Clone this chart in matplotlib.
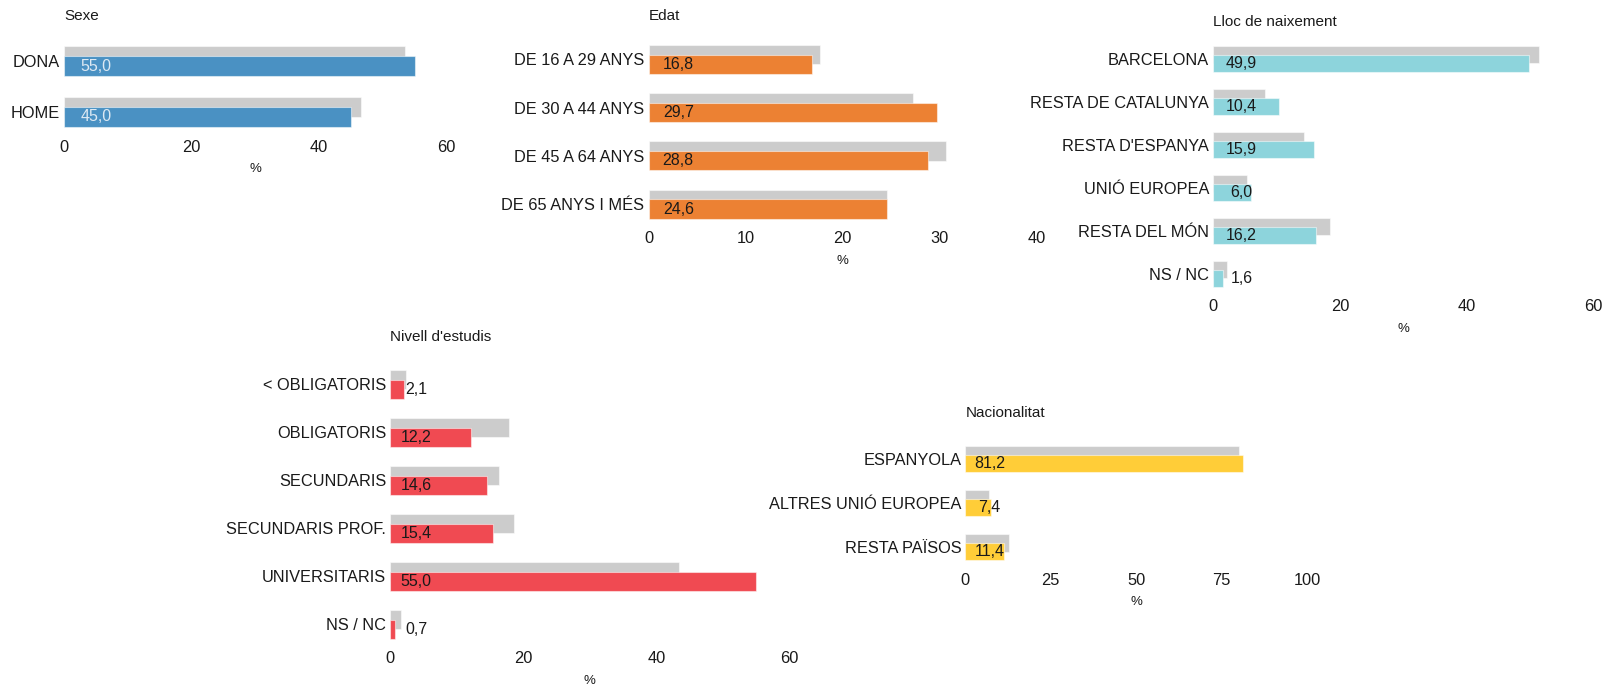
import matplotlib.pyplot as plt
import numpy as np

plt.rcParams['font.family'] = ['Liberation Sans', 'DejaVu Sans']

# data
sexe_cats = ['DONA', 'HOME']
sexe_vals = [55.0, 45.0]
sexe_ref = [53.4, 46.6]

edat_cats = ['DE 16 A 29 ANYS', 'DE 30 A 44 ANYS', 'DE 45 A 64 ANYS', 'DE 65 ANYS I MÉS']
edat_vals = [16.8, 29.7, 28.8, 24.6]
edat_ref = [17.7, 27.2, 30.6, 24.6]

lloc_cats = ['BARCELONA', 'RESTA DE CATALUNYA', "RESTA D'ESPANYA", 'UNIÓ EUROPEA',
             'RESTA DEL MÓN', 'NS / NC']
lloc_vals = [49.9, 10.4, 15.9, 6.0, 16.2, 1.6]
lloc_ref = [51.5, 8.1, 14.3, 5.4, 18.5, 2.2]

estudis_cats = ['< OBLIGATORIS', 'OBLIGATORIS', 'SECUNDARIS', 'SECUNDARIS PROF.',
                'UNIVERSITARIS', 'NS / NC']
estudis_vals = [2.1, 12.2, 14.6, 15.4, 55.0, 0.7]
estudis_ref = [2.3, 17.9, 16.3, 18.6, 43.4, 1.6]

nacio_cats = ['ESPANYOLA', 'ALTRES UNIÓ EUROPEA', 'RESTA PAÏSOS']
nacio_vals = [81.2, 7.4, 11.4]
nacio_ref = [80.0, 6.9, 12.8]

W, H = 1605, 684
fig = plt.figure(figsize=(W / 100, H / 100), dpi=100)


def fmt(v):
    return f'{v:.1f}'.replace('.', ',')


def panel(title, cats, vals, ref, color, xticks, x0, x1, top, bottom, title_y,
          label_dx, label_color='#1a1a1a'):
    n = len(cats)
    pos = np.arange(n)[::-1]
    s = (bottom - top) / (n - 1 + 0.6)
    pad = 4.0 / s
    ax_top = top - 4
    ax_bot = bottom + 4
    ax = fig.add_axes([x0 / W, 1 - ax_bot / H, (x1 - x0) / W, (ax_bot - ax_top) / H])
    ax.barh(pos + 0.1, ref, height=0.4, color='#cccccc',
            edgecolor=(1, 1, 1, 0.5), linewidth=0.8)
    ax.barh(pos - 0.1, vals, height=0.4, color=color,
            edgecolor=(1, 1, 1, 0.5), linewidth=0.8)
    for v, p in zip(vals, pos):
        ax.annotate(fmt(v), xy=(0, p - 0.1), xytext=(label_dx, 0),
                    textcoords='offset pixels', ha='center', va='center',
                    fontsize=11.5, color=label_color)
    ax.set_xlim(xticks[0], xticks[-1])
    ax.set_ylim(-0.3 - pad, n - 1 + 0.3 + pad)
    ax.set_xticks(xticks)
    ax.set_yticks(pos, cats)
    ax.tick_params(axis='both', length=0, labelsize=11.8, colors='#1a1a1a')
    ax.tick_params(axis='x', pad=6.3)
    ax.tick_params(axis='y', pad=3)
    for sp in ax.spines.values():
        sp.set_visible(False)
    ax.set_xlabel('%', fontsize=9.5, labelpad=6, color='#1a1a1a')
    fig.text(x0 / W, 1 - title_y / H, title, ha='left', va='center',
             fontsize=11, color='#1a1a1a')
    return ax


panel('Sexe', sexe_cats, sexe_vals, sexe_ref, '#4a91c3', [0, 20, 40, 60],
      64.3, 446.7, 46, 127, 16, 32, label_color='#dde9f3')
panel('Edat', edat_cats, edat_vals, edat_ref, '#ec8133', [0, 10, 20, 30, 40],
      648.6, 1037, 45, 218.7, 16, 29.7)
panel('Lloc de naixement', lloc_cats, lloc_vals, lloc_ref, '#8dd4dc', [0, 20, 40, 60],
      1213.3, 1593, 46, 286.7, 21.7, 28.3)
panel("Nivell d'estudis", estudis_cats, estudis_vals, estudis_ref, '#f04a52',
      [0, 20, 40, 60], 390.2, 789.4, 370, 638.7, 336.7, 26)
panel('Nacionalitat', nacio_cats, nacio_vals, nacio_ref, '#ffcd38',
      [0, 25, 50, 75, 100], 965.3, 1306.9, 446, 560.3, 413.3, 24)

fig.savefig('out.png', dpi=100)
